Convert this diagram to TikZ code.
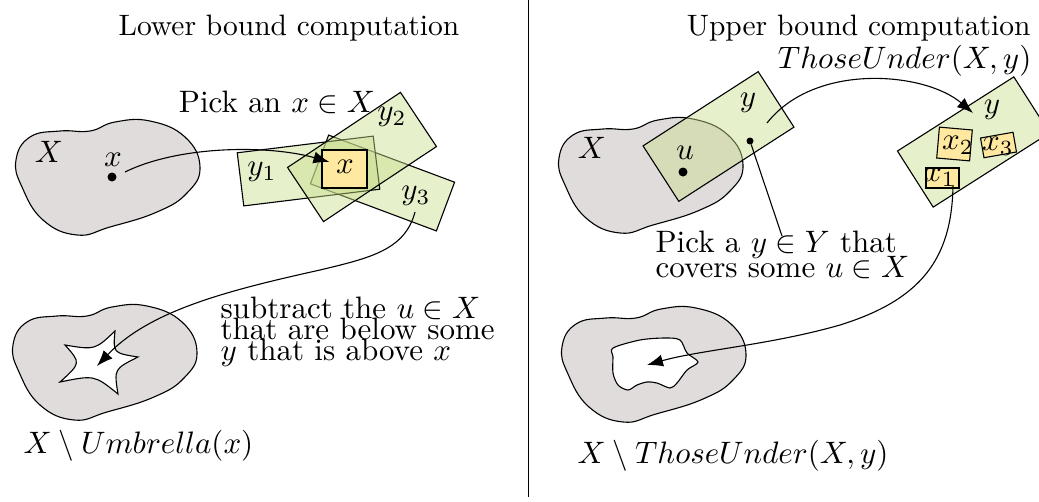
\documentclass[tikz,border=0pt]{standalone}
\usetikzlibrary{arrows.meta}
\definecolor{blobgray}{RGB}{224,220,219}
\definecolor{rectgreen}{RGB}{200,222,140}
\definecolor{boxyellow}{RGB}{255,233,160}
\newcommand\blobshape{plot[smooth cycle, tension=0.75] coordinates {(16,160) (30,137) (60,131) (90,131) (115,122) (150,121) (185,137) (200,167) (187,193) (157,212) (110,227) (77,235) (43,220) (22,187)}}
\tikzset{
  blob/.style={draw=black, line width=1.1pt, fill=blobgray},
  hole/.style={draw=black, line width=1.1pt, fill=white},
  cover/.style={rectangle, draw=black, line width=1.1pt, fill=rectgreen, fill opacity=0.45, draw opacity=1, inner sep=0pt},
  xbox/.style={rectangle, draw=black, line width=1.1pt, fill=boxyellow, inner sep=0pt},
  lab/.style={inner sep=0pt, scale=3.1},
  head/.style={inner sep=0pt, scale=2.95},
  conn/.style={line width=1.1pt, -{Latex[length=16pt,width=12pt]}},
  dotnode/.style={circle, fill=black, inner sep=0pt, minimum size=9pt},
  smalldot/.style={circle, fill=black, inner sep=0pt, minimum size=7pt},
}
\begin{document}
\begin{tikzpicture}[x=1pt,y=-1pt]
\useasboundingbox (0,0) rectangle (1039,501);
\clip (0,0) rectangle (1039,501);
% divider
\draw[line width=0.8pt] (528,0) -- (528,497);
% headings
\node[head, anchor=base west] (hl) at (118,35) {Lower bound computation};
\node[head, anchor=base east] (hr) at (1031,35) {Upper bound computation};

% ===== left panel =====
\draw[blob] \blobshape;
\node[lab] (lX) at (49,152) {$X$};
\node[dotnode] (xdot) at (112,177) {};
\node[lab] (xlab) at (113,160) {$x$};

\node[cover, minimum width=134.5pt, minimum height=52pt, rotate=-20.5] (y3r) at (382.5,183) {};
\node[cover, minimum width=137pt, minimum height=53.5pt, rotate=7] (y1r) at (308.5,171) {};
\node[cover, minimum width=135.6pt, minimum height=65pt, rotate=33.6] (y2r) at (362,157) {};
\node[xbox, minimum width=45pt, minimum height=38pt] (xb) at (344.5,169) {};
\node[lab] (xbl) at (345,167) {$x$};
\node[lab] (y1l) at (262,172) {$y_1$};
\node[lab] (y2l) at (392,117) {$y_2$};
\node[lab] (y3l) at (416,196) {$y_3$};
\node[lab, anchor=base] (pick) at (277,112) {Pick an $x\in X$};

\coordinate (a1s) at (125,172);
\draw[conn] (a1s) .. controls (180,145) and (270,145) .. ([xshift=8pt,yshift=7pt]xb.west);

% lower left blob
\draw[blob, shift={(-3,185)}] \blobshape;
\coordinate (s1) at (65,345);
\coordinate (s2) at (115,331);
\coordinate (s3) at (138,357);
\coordinate (s4) at (118,394);
\coordinate (s5) at (60,382);
\draw[hole] (s1) .. controls (95,350) .. (s2) .. controls (113,353) .. (s3) .. controls (114,369) .. (s4) .. controls (94.5,375) .. (s5) .. controls (81,363) .. cycle;
\coordinate (a2s) at (415,212);
\coordinate (a2e) at (97,366);
\draw[conn] (a2s) .. controls (405,250) and (370,258) .. (320,270) .. controls (230,290) and (150,310) .. (a2e);
\node[lab, anchor=base west] (sub1) at (220,318) {subtract the $u\in X$};
\node[lab, anchor=base west] (sub2) at (220,339) {that are below some};
\node[lab, anchor=base west] (sub3) at (220,360) {$y$ that is above $x$};
\node[lab, anchor=base west] (umb) at (23,453) {$X\setminus Umbrella(x)$};

% ===== right panel =====
\draw[blob, shift={(543,-2)}] \blobshape;
\node[cover, minimum width=137pt, minimum height=66pt, rotate=32.8] (yr) at (718.5,136.5) {};
\node[lab] (rX) at (592,148) {$X$};
\node[dotnode] (udot) at (683,172) {};
\node[lab] (ulab) at (685,153) {$u$};
\node[lab] (ylab) at (748,103) {$y$};
\node[smalldot] (ydot) at (750,141) {};

\node[cover, minimum width=138pt, minimum height=66.5pt, rotate=32.5] (yr2) at (973.5,142) {};
\node[lab] (ylab2) at (992,110) {$y$};
\node[xbox, minimum width=33pt, minimum height=31pt, rotate=-5] (x2b) at (954.5,144) {};
\node[xbox, minimum width=33pt, minimum height=20pt, rotate=10] (x3b) at (998.5,145) {};
\node[xbox, minimum width=33pt, minimum height=20pt] (x1b) at (942.5,178) {};
\node[lab] (x2l) at (958,145) {$x_2$};
\node[lab] (x3l) at (998,146) {$x_3$};
\node[lab] (x1l) at (940,177) {$x_1$};

\node[lab, anchor=base east] (tu) at (1032,68) {$ThoseUnder(X,y)$};
\coordinate (a3s) at (767,123);
\coordinate (a3e) at (973,113);
\draw[conn] (a3s) .. controls (815,62) and (925,72) .. (a3e);

\node[lab, anchor=base west] (pk1) at (655,252) {Pick a $y\in Y$ that};
\node[lab, anchor=base west] (pk2) at (655,277) {covers some $u\in X$};
\coordinate (pkt) at (782,236);
\draw[line width=1.1pt] (ydot) -- (pkt);

\draw[blob, shift={(546,187)}] \blobshape;
\draw[hole] plot[smooth cycle, tension=0.5] coordinates {(613,348) (640,340) (665,338) (680,340) (687,353) (698,362) (687,370) (677,383) (670,388) (657,383) (647,382) (637,385) (628,390) (618,385) (613,373) (613,357)};
\coordinate (a4s) at (953,185);
\coordinate (a4e) at (647,365);
\draw[conn] (a4s) .. controls (952,260) and (920,300) .. (840,325) .. controls (770,345) and (700,350) .. (a4e);
\node[lab, anchor=base west] (tu2) at (577,463) {$X\setminus ThoseUnder(X,y)$};
\end{tikzpicture}
\end{document}
